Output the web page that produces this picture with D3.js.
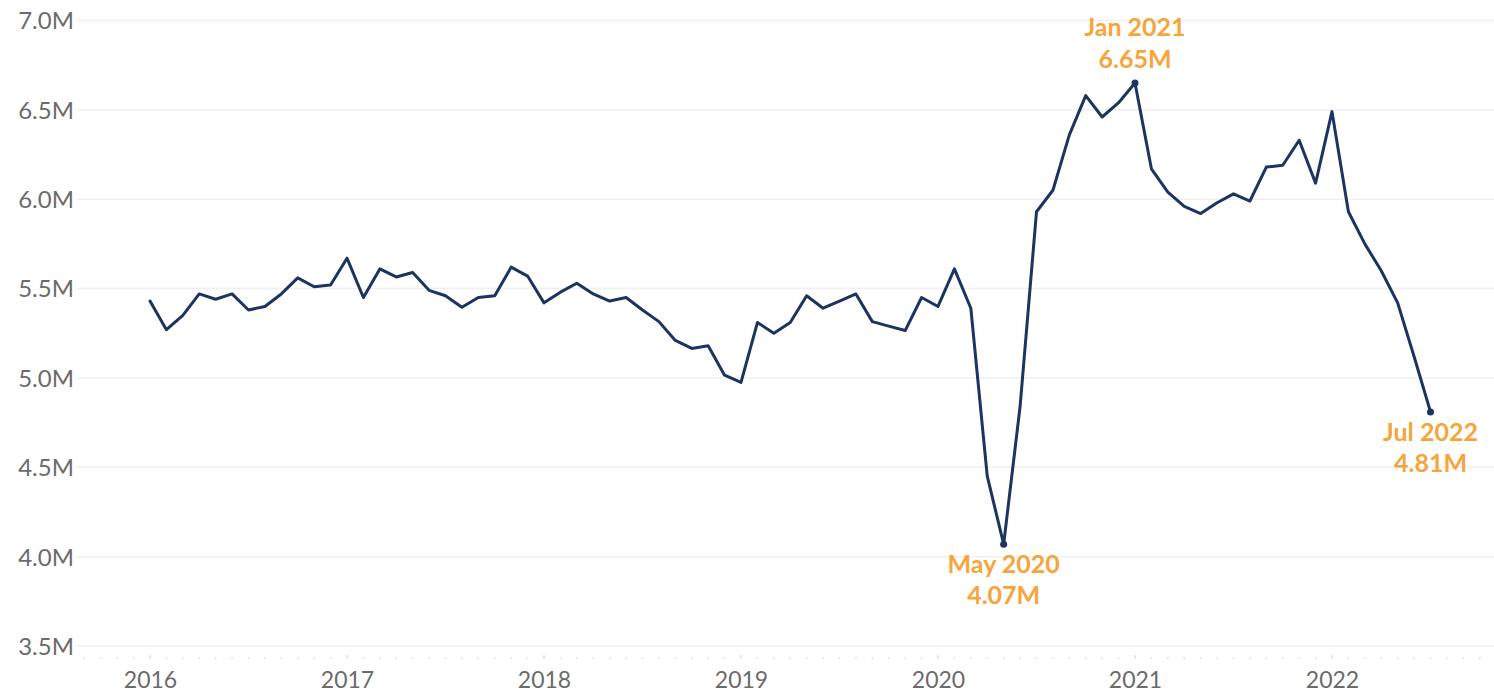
<!DOCTYPE html>
<html>
<head>
<meta charset="utf-8">
<script src="https://cdn.jsdelivr.net/npm/d3@7"></script>
<style>
  html, body { margin: 0; padding: 0; background: #ffffff; }
  svg { display: block; }
</style>
</head>
<body>
<svg id="chart" width="1494" height="693"></svg>
<script>
// ---- Data (monthly, Jan 2016 – Jul 2022), millions ----
const startYear = 2016;
const values2016 = [5.43, 5.27, 5.35, 5.47, 5.44, 5.47, 5.38, 5.40, 5.47, 5.56, 5.51, 5.52];
const values2017 = [5.67, 5.45, 5.61, 5.565, 5.59, 5.49, 5.46, 5.395, 5.45, 5.46, 5.62, 5.57];
const values2018 = [5.42, 5.48, 5.53, 5.47, 5.43, 5.45, 5.38, 5.315, 5.21, 5.165, 5.18, 5.015];
const values2019 = [4.975, 5.31, 5.25, 5.31, 5.46, 5.39, 5.43, 5.47, 5.315, 5.29, 5.265, 5.45];
const values2020 = [5.40, 5.61, 5.39, 4.45, 4.07, 4.84, 5.93, 6.05, 6.36, 6.58, 6.46, 6.54];
const values2021 = [6.65, 6.17, 6.04, 5.96, 5.92, 5.98, 6.03, 5.99, 6.18, 6.19, 6.33, 6.09];
const values2022 = [6.49, 5.93, 5.75, 5.60, 5.42, 5.12, 4.81];
const yearTicks = [2016, 2017, 2018, 2019, 2020, 2021, 2022];
const yTicks = [3.5, 4.0, 4.5, 5.0, 5.5, 6.0, 6.5, 7.0];
const monthNames = ["Jan","Feb","Mar","Apr","May","Jun","Jul","Aug","Sep","Oct","Nov","Dec"];
const annotations = [
  { label: "May 2020", value: "4.07M", pos: "below" },
  { label: "Jan 2021", value: "6.65M", pos: "above" },
  { label: "Jul 2022", value: "4.81M", pos: "below" }
];

const allValues = [].concat(values2016, values2017, values2018, values2019, values2020, values2021, values2022);
const data = allValues.map((v, i) => ({
  idx: i,
  label: monthNames[i % 12] + " " + (startYear + Math.floor(i / 12)),
  value: v
}));

// ---- Layout ----
const svg = d3.select("#chart");
const plotLeft = 77, plotRight = 1494;
const fontFamily = "Lato, 'Open Sans', sans-serif";

// month index scale: Jan 2016 (0) -> 150, Jan 2022 (72) -> 1332
const x = d3.scaleLinear().domain([0, 72]).range([150, 1332]);
const y = d3.scaleLinear().domain([3.5, 7.0]).range([646, 20.5]);

// gridlines
svg.append("g")
  .selectAll("line")
  .data(yTicks)
  .join("line")
  .attr("x1", plotLeft).attr("x2", plotRight)
  .attr("y1", d => y(d)).attr("y2", d => y(d))
  .attr("stroke", "#f0f0f0")
  .attr("stroke-width", 1.5);

// y axis labels
const yAxis = d3.axisLeft(y).tickValues(yTicks).tickSize(0).tickPadding(0)
  .tickFormat(d => d3.format(".1f")(d) + "M");
svg.append("g")
  .attr("transform", `translate(74,0)`)
  .call(yAxis)
  .call(g => g.select(".domain").remove())
  .call(g => g.selectAll("text")
    .attr("fill", "#6b6b6b")
    .attr("font-family", fontFamily)
    .attr("font-size", 24)
    .attr("dy", "0.35em"));

// x axis: faint monthly tick marks + year labels
const monthTicks = d3.range(-4, 84);
svg.append("g")
  .selectAll("line")
  .data(monthTicks)
  .join("line")
  .attr("x1", d => x(d)).attr("x2", d => x(d))
  .attr("y1", d => d % 12 === 0 ? 655 : 657)
  .attr("y2", 659)
  .attr("stroke", "#e2e2e2")
  .attr("stroke-width", 1.5);

const xAxis = d3.axisBottom(x)
  .tickValues(yearTicks.map(yr => (yr - startYear) * 12))
  .tickSize(0).tickPadding(0)
  .tickFormat(d => String(startYear + d / 12));
svg.append("g")
  .attr("transform", `translate(0,688)`)
  .call(xAxis)
  .call(g => g.select(".domain").remove())
  .call(g => g.selectAll("text")
    .attr("fill", "#6b6b6b")
    .attr("font-family", fontFamily)
    .attr("font-size", 23)
    .attr("dy", 0)
    .attr("y", 0));

// line
const line = d3.line().x(d => x(d.idx)).y(d => y(d.value));
svg.append("path")
  .datum(data)
  .attr("d", line)
  .attr("fill", "none")
  .attr("stroke", "#1b3461")
  .attr("stroke-width", 3)
  .attr("stroke-linejoin", "round")
  .attr("stroke-linecap", "round");

// annotations
const annoColor = "#f7a53b";
annotations.forEach(a => {
  const d = data.find(p => p.label === a.label);
  const px = x(d.idx), py = y(d.value);
  svg.append("circle").attr("cx", px).attr("cy", py).attr("r", 3.5).attr("fill", "#1b3461");
  const t = svg.append("text")
    .attr("text-anchor", "middle")
    .attr("font-family", fontFamily)
    .attr("font-weight", 700)
    .attr("font-size", 25)
    .attr("fill", annoColor);
  if (a.pos === "above") {
    t.append("tspan").attr("x", px).attr("y", py - 47).text(a.label);
    t.append("tspan").attr("x", px).attr("y", py - 15).text(a.value);
  } else {
    t.append("tspan").attr("x", px).attr("y", py + 29).text(a.label);
    t.append("tspan").attr("x", px).attr("y", py + 60).text(a.value);
  }
});
</script>
</body>
</html>
